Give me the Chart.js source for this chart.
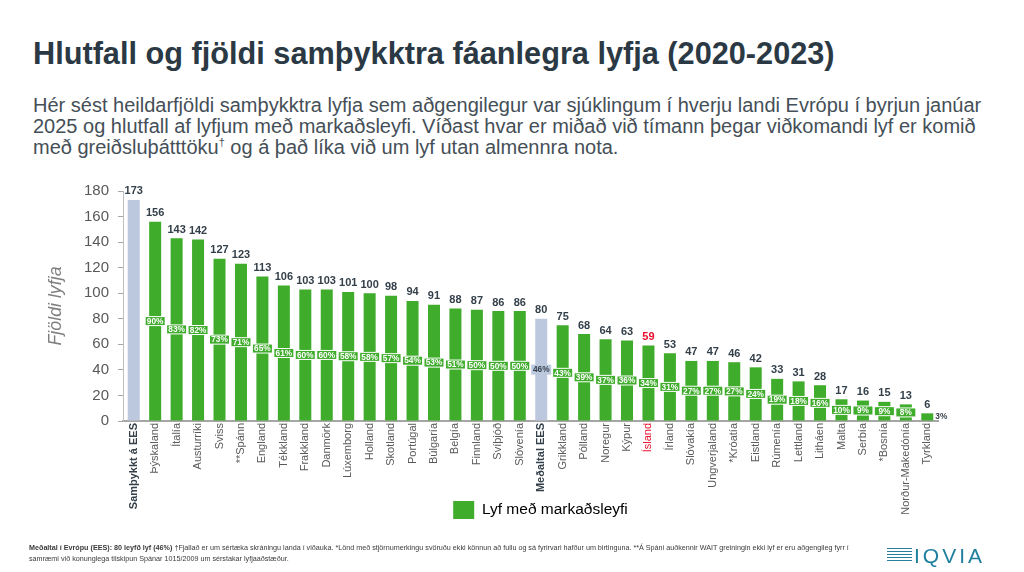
<!DOCTYPE html>
<html lang="is">
<head>
<meta charset="utf-8">
<title>Hlutfall og fjöldi samþykktra fáanlegra lyfja</title>
<script src="https://cdn.jsdelivr.net/npm/chart.js@4"></script>
<style>
  html, body { margin: 0; width: 1024px; height: 572px; overflow: hidden; background: #fff; font-family: "Liberation Sans", Arial, sans-serif; }
  h1 { position: absolute; left: 33px; top: 38px; margin: 0; font-size: 30.7px; line-height: 32px; font-weight: 700; color: #2b3944; white-space: nowrap; }
  #intro { position: absolute; left: 33px; top: 95px; margin: 0; font-size: 20px; line-height: 21px; color: #454f57; white-space: nowrap; }
  #intro sup { font-size: 11px; line-height: 0; }
  #wrap { position: absolute; left: 40px; top: 173px; width: 984px; height: 382px; }
  #notes { position: absolute; left: 29px; top: 542px; margin: 0; font-size: 7.19px; line-height: 11px; color: #3a3a3a; white-space: nowrap; }
  #logo { position: absolute; left: 887px; top: 545px; width: 100px; height: 22px; }
  #logo i { position: absolute; left: 0; top: 3px; width: 25px; height: 15px; background: repeating-linear-gradient(#2a7f9e 0 1.5px, #fff 1.5px 3px); }
  #logo span { position: absolute; left: 27px; top: 0; font-size: 21px; line-height: 22px; letter-spacing: 3px; color: #1f7f9f; }
</style>
</head>
<body>
<h1>Hlutfall og fjöldi samþykktra fáanlegra lyfja (2020-2023)</h1>
<p id="intro">Hér sést heildarfjöldi samþykktra lyfja sem aðgengilegur var sjúklingum í hverju landi Evrópu í byrjun janúar<br>2025 og hlutfall af lyfjum með markaðsleyfi. Víðast hvar er miðað við tímann þegar viðkomandi lyf er komið<br>með greiðsluþátttöku<sup>†</sup> og á það líka við um lyf utan almennra nota.</p>
<div id="wrap"><canvas id="chart"></canvas></div>
<p id="notes"><b>Meðaltal í Evrópu (EES): 80 leyfð lyf (46%)</b> †Fjallað er um sértæka skráningu landa í viðauka. *Lönd með stjörnumerkingu svöruðu ekki könnun að fullu og sá fyrirvari hafður um birtinguna. **Á Spáni auðkennir WAIT greiningin ekki lyf er eru aðgengileg fyrr í<br>samræmi við konunglega tilskipun Spánar 1015/2009 um sérstakar lyfjaaðstæður.</p>
<div id="logo"><i></i><span>IQVIA</span></div>
<script>
const categories = ['Samþykkt á EES', 'Þýskaland', 'Ítalía', 'Austurríki', 'Sviss', '**Spánn', 'England', 'Tékkland', 'Frakkland', 'Danmörk',
  'Lúxemborg', 'Holland', 'Skotland', 'Portúgal', 'Búlgaría', 'Belgía', 'Finnland', 'Svíþjóð', 'Slóvenía', 'Meðaltal EES',
  'Grikkland', 'Pólland', 'Noregur', 'Kýpur', 'Ísland', 'Írland', 'Slóvakía', 'Ungverjaland', '*Króatía', 'Eistland',
  'Rúmenía', 'Lettland', 'Litháen', 'Malta', 'Serbía', '*Bosnía', 'Norður-Makedónía', 'Tyrkland'];
const totals = [173, 156, 143, 142, 127, 123, 113, 106, 103, 103, 101, 100, 98, 94, 91, 88, 87, 86, 86, 80,
  75, 68, 64, 63, 59, 53, 47, 47, 46, 42, 33, 31, 28, 17, 16, 15, 13, 6];
const percents = [null, 90, 83, 82, 73, 71, 65, 61, 60, 60, 58, 58, 57, 54, 53, 51, 50, 50, 50, 46,
  43, 39, 37, 36, 34, 31, 27, 27, 27, 24, 19, 18, 16, 10, 9, 9, 8, 3];
const summaryBars = ['Samþykkt á EES', 'Meðaltal EES'];
const redBar = 'Ísland';

const GREEN = '#3fac2b', BLUEGREY = '#bcc8de', DARK = '#333f49', GREY = '#595959', RED = '#e8112d';
const FONT = '"Liberation Sans", Arial, sans-serif';
const isSummary = (i) => summaryBars.includes(categories[i]);

// value on top of each bar, percent box in the middle of it
const barLabels = {
  id: 'barLabels',
  // the long tick labels need the box below the axis, so the legend is moved up beside them
  afterLayout(chart) {
    const l = chart.legend;
    l.left += 49; l.right += 49;
    l.top -= 26; l.bottom -= 26;
  },
  afterDatasetsDraw(chart) {
    const { ctx } = chart;
    ctx.save();
    ctx.textAlign = 'center';
    ctx.textBaseline = 'middle';
    chart.getDatasetMeta(0).data.forEach((bar, i) => {
      ctx.font = `bold 11px ${FONT}`;
      ctx.fillStyle = categories[i] === redBar ? RED : DARK;
      ctx.fillText(totals[i], bar.x, bar.y - 8.5);
      if (percents[i] === null) return;
      const txt = percents[i] + '%';
      const mid = (bar.y + bar.base) / 2;
      ctx.font = `bold 8.3px ${FONT}`;
      if (i === categories.length - 1) {
        // bar too short for a box
        ctx.fillStyle = DARK;
        ctx.fillText(txt, bar.x + 14, mid);
        return;
      }
      if (isSummary(i)) {
        ctx.fillStyle = BLUEGREY;
        ctx.fillRect(bar.x - 10, mid - 5, 20, 10);
        ctx.fillStyle = DARK;
      } else {
        ctx.fillStyle = '#fff';
        ctx.fillRect(bar.x - 10.5, mid - 5, 21, 10);
        ctx.fillStyle = GREEN;
        ctx.fillRect(bar.x - 9.5, mid - 4, 19, 8);
        ctx.fillStyle = '#fff';
      }
      ctx.fillText(txt, bar.x, mid + 0.5);
    });
    ctx.restore();
  },
};

new Chart(document.getElementById('chart'), {
  type: 'bar',
  data: {
    labels: categories,
    datasets: [{
      label: 'Lyf með markaðsleyfi',
      data: totals,
      backgroundColor: categories.map((c, i) => (isSummary(i) ? BLUEGREY : GREEN)),
      barPercentage: 0.56,
      categoryPercentage: 1,
    }],
  },
  plugins: [barLabels],
  options: {
    responsive: true,
    maintainAspectRatio: false,
    animation: false,
    layout: { padding: { left: 5, right: 86, top: 15, bottom: 0 } },
    plugins: {
      tooltip: { enabled: false },
      legend: {
        position: 'bottom',
        labels: {
          color: '#4a4a4a', boxWidth: 21, boxHeight: 18, padding: 6, font: { family: FONT, size: 15.5 },
          generateLabels: (chart) => [{ text: chart.data.datasets[0].label, fillStyle: GREEN, lineWidth: 0, strokeStyle: GREEN, datasetIndex: 0 }],
        },
      },
    },
    scales: {
      x: {
        afterFit: (s) => { s.height = 100; },
        border: { color: '#a6a6a6', width: 2 },
        grid: { display: false, drawTicks: false },
        ticks: {
          autoSkip: false, minRotation: 90, maxRotation: 90, padding: 2,
          font: (c) => ({ family: FONT, size: 11, weight: isSummary(c.index) ? 'bold' : 'normal' }),
          color: (c) => (categories[c.index] === redBar ? RED : isSummary(c.index) ? DARK : GREY),
        },
      },
      y: {
        min: 0, max: 180,
        afterFit: (s) => { s.width = 78; },
        border: { color: '#bfbfbf', width: 1 },
        grid: { drawOnChartArea: false, tickLength: 5, color: '#a6a6a6' },
        ticks: { stepSize: 20, padding: 9, color: GREY, font: { family: FONT, size: 15 } },
        title: { display: true, text: 'Fjöldi lyfja', color: '#7f7f7f', padding: 0, font: { family: FONT, size: 17.8, style: 'italic' } },
      },
    },
  },
});
</script>
</body>
</html>
